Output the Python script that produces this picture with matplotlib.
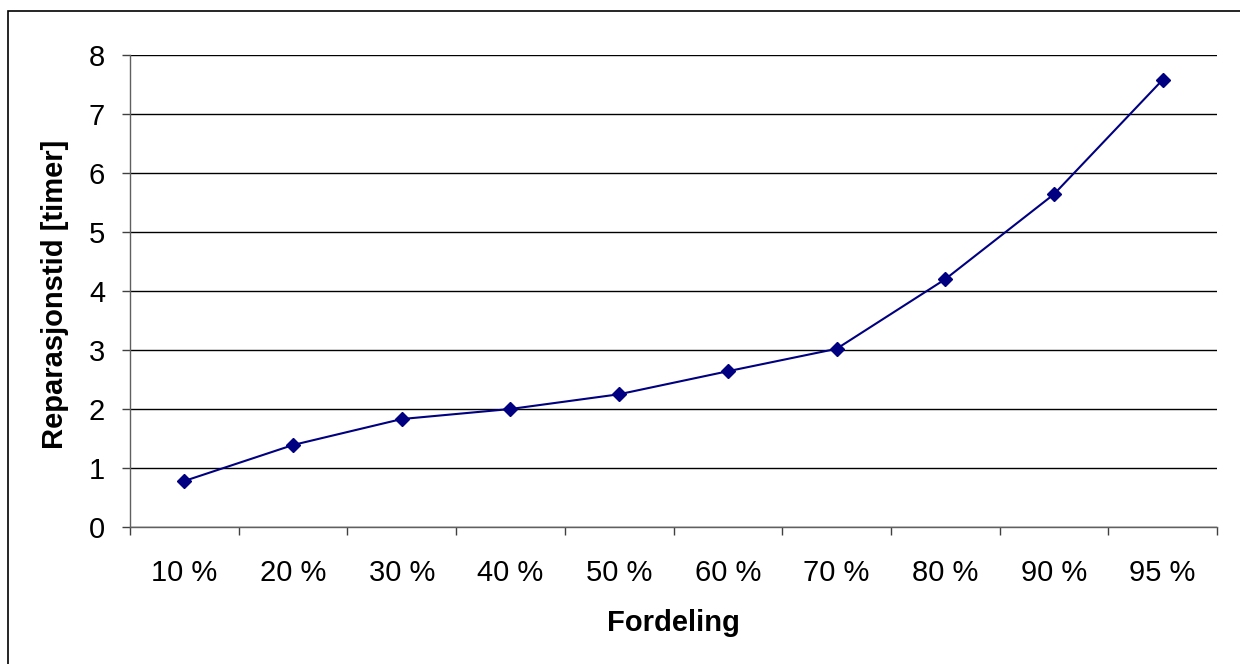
import matplotlib
matplotlib.use("Agg")
import matplotlib.pyplot as plt
from matplotlib.patches import Rectangle
import numpy as np

categories = ["10 %", "20 %", "30 %", "40 %", "50 %", "60 %", "70 %", "80 %", "90 %", "95 %"]
values = [0.78, 1.39, 1.83, 2.0, 2.25, 2.64, 3.02, 4.2, 5.64, 7.58]
yticks = [0, 1, 2, 3, 4, 5, 6, 7, 8]

plt.rcParams['font.family'] = ['Liberation Sans', 'DejaVu Sans']

fig = plt.figure(figsize=(12.4, 6.64), dpi=100)
ax = fig.add_axes([130/1240, 1-527/664, (1217-130)/1240, (527-55)/664])

x = np.arange(len(categories))
ax.plot(x, values, color='#000080', lw=1.5, marker='D', markersize=7.5,
        markerfacecolor='#000080', markeredgecolor='#000080', zorder=3)

ax.set_xlim(-0.5, len(categories) - 0.5)
ax.set_ylim(0, 8)
ax.set_yticks(yticks)
ax.set_yticklabels([str(t) for t in yticks], fontsize=21)
ax.yaxis.grid(True, color='black', lw=1)
ax.set_axisbelow(True)

ax.set_xticks(x)
ax.set_xticklabels(categories, fontsize=21)
ax.set_xticks(np.arange(len(categories) + 1) - 0.5, minor=True)
ax.tick_params(axis='x', which='major', length=0, pad=23)
ax.tick_params(axis='x', which='minor', length=6, width=1, color='#404040', direction='out')
ax.tick_params(axis='y', length=6, width=1, color='#404040', direction='out', pad=12)

for s in ['top', 'right']:
    ax.spines[s].set_visible(False)
for s in ['left', 'bottom']:
    ax.spines[s].set_color('#606060')
    ax.spines[s].set_linewidth(1)

fig.text((130+1217)/2/1240, 1-623/664, "Fordeling", fontsize=21, fontweight='bold',
         ha='center', va='center')
fig.text(55/1240, 1-294/664, "Reparasjonstid [timer]", fontsize=21, fontweight='bold',
         ha='center', va='center', rotation=90)

fig.patches.append(Rectangle((8/1240, -0.2), 2, 0.2 + 1-11/664, transform=fig.transFigure,
                             fill=False, edgecolor='black', lw=1.2))

fig.savefig("out.png", dpi=100)
